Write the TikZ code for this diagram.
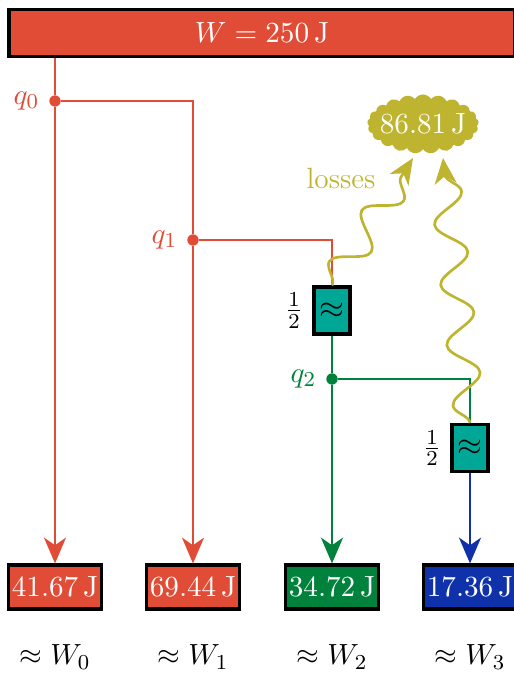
\documentclass[tikz,border=0pt]{standalone}
\usetikzlibrary{arrows.meta,shapes.symbols,decorations.pathmorphing}

\definecolor{flowred}{RGB}{224,76,54}
\definecolor{flowgreen}{RGB}{0,130,60}
\definecolor{flowblue}{RGB}{15,50,170}
\definecolor{filterteal}{RGB}{0,166,150}
\definecolor{lossolive}{RGB}{190,180,48}

\tikzset{
  energy/.style={draw=black,very thick,text=white,inner sep=0pt,minimum width=1.23cm,minimum height=0.58cm,font=\fontsize{11.3}{14}\selectfont},
  filterbox/.style={draw=black,very thick,fill=filterteal,inner sep=0pt,minimum width=0.475cm,minimum height=0.62cm,font=\large},
  split/.style={circle,fill,inner sep=0pt,minimum size=0.15cm},
  flow/.style={line width=1pt,-{Stealth[length=3.4mm,width=2.9mm,inset=1mm]}},
  wire/.style={line width=1pt},
  lossflow/.style={line width=1pt,lossolive,-{Stealth[length=3.4mm,width=2.9mm,inset=1mm]},
    decorate,decoration={snake,amplitude=0.2cm,segment length=0.8cm,post length=0.2cm}}
}

\begin{document}
\begin{tikzpicture}[x=0.0132cm,y=-0.0132cm,font=\fontsize{11}{13.6}\selectfont]
		\useasboundingbox (0,0) rectangle (513,673);

		\node[energy,fill=flowred,minimum width=6.68cm,minimum height=0.61cm,font=\fontsize{10.8}{13}\selectfont] (W) at (262,33) {$W = 250\,\mathrm{J}$};

		\node[split,flowred,label={[flowred]left:$q_0$}] (q0) at (55,101) {};
		\node[split,flowred,label={[flowred]left:$q_1$}] (q1) at (193,240) {};
		\node[split,flowgreen,label={[flowgreen]left:$q_2$}] (q2) at (332,379) {};

		\node[filterbox,label={left:$\frac{1}{2}$}] (H1) at (332,310.5) {$\approx$};
		\node[filterbox,label={left:$\frac{1}{2}$}] (H2) at (470,448) {$\approx$};

		\node[cloud,cloud puffs=21,cloud puff arc=120,cloud ignores aspect,fill=lossolive,text=white,inner xsep=-6pt,inner ysep=1pt,minimum width=1.47cm,minimum height=0.78cm,font=\fontsize{10.5}{13}\selectfont] (L) at (423,124) {$86.81\,\mathrm{J}$};
		\coordinate (L1) at (413,158);
		\coordinate (L2) at (443,158);
		\node[lossolive] (losses) at (341,178) {losses};

		\node[energy,fill=flowred] (E0) at (55,587) {$41.67\,\mathrm{J}$};
		\node[energy,fill=flowred] (E1) at (193,587) {$69.44\,\mathrm{J}$};
		\node[energy,fill=flowgreen] (E2) at (332,587) {$34.72\,\mathrm{J}$};
		\node[energy,fill=flowblue] (E3) at (470,587) {$17.36\,\mathrm{J}$};

		\node (A0) at (55,657) {$\approx W_0$};
		\node (A1) at (193,657) {$\approx W_1$};
		\node (A2) at (332,657) {$\approx W_2$};
		\node (A3) at (470,657) {$\approx W_3$};

		% red branch
		\draw[wire,flowred] (W.south -| q0) -- (q0);
		\draw[flow,flowred] (q0) -- (E0);
		\draw[wire,flowred] (q0) -| (q1);
		\draw[flow,flowred] (q1) -- (E1);
		\draw[wire,flowred] (q1) -| (H1);
		% green branch
		\draw[wire,flowgreen] (H1) -- (q2);
		\draw[flow,flowgreen] (q2) -- (E2);
		\draw[wire,flowgreen] (q2) -| (H2);
		% blue branch
		\draw[flow,flowblue] (H2) -- (E3);

		% losses
		\draw[lossflow] (H1.north) -- (L1);
		\draw[lossflow] (H2.north) -- (L2);
\end{tikzpicture}
\end{document}
